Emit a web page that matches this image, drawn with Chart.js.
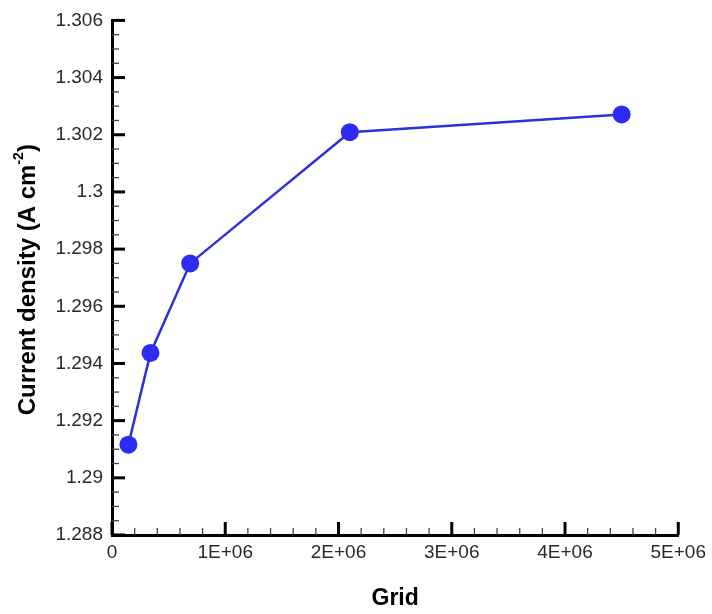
<!DOCTYPE html>
<html>
<head>
<meta charset="utf-8">
<title>Current density vs grid</title>
<script src="https://cdn.jsdelivr.net/npm/chart.js@4/dist/chart.umd.min.js"></script>
<style>
    html, body { margin: 0; padding: 0; background: #fff; }
    #wrap { width: 712px; height: 614px; }
</style>
</head>
<body>
<div id="wrap"><canvas id="gridChart"></canvas></div>
<script>
/* ── Grid independence data ─────────────────────────── */
const gridSizes = [145000, 340000, 690000, 2100000, 4500000];
const currentDensity = [1.29116, 1.29437, 1.29750, 1.30209, 1.30271];

const xRange = [0, 5000000];
const xStep = 1000000;
const xMinorStep = 200000;
const yRange = [1.288, 1.306];
const yStep = 0.002;
const yMinorStep = 0.0005;

const FONT = "'Liberation Sans', Arial, sans-serif";

/* ── Inward major/minor ticks along the left and bottom axes ── */
const inwardTicks = {
    id: 'inwardTicks',
    afterDatasetsDraw(chart) {
        const { ctx, chartArea: a, scales: { x, y } } = chart;
        ctx.save();
        ctx.lineCap = 'butt';

        const tick = (x1, y1, x2, y2, w, c) => {
            ctx.beginPath();
            ctx.lineWidth = w;
            ctx.strokeStyle = c;
            ctx.moveTo(x1, y1);
            ctx.lineTo(x2, y2);
            ctx.stroke();
        };

        const nx = Math.round((xRange[1] - xRange[0]) / xMinorStep);
        for (let i = 0; i <= nx; i++) {
            const v = xRange[0] + i * xMinorStep;
            const px = x.getPixelForValue(v);
            const major = i % Math.round(xStep / xMinorStep) === 0;
            if (major) tick(px, a.bottom, px, a.bottom - 13, 3, '#000');
            else tick(px, a.bottom, px, a.bottom - 7, 1.3, '#444');
        }

        const ny = Math.round((yRange[1] - yRange[0]) / yMinorStep);
        for (let i = 0; i <= ny; i++) {
            const v = yRange[0] + i * yMinorStep;
            const py = y.getPixelForValue(v);
            const major = i % Math.round(yStep / yMinorStep) === 0;
            if (major) tick(a.left, py, a.left + 13, py, 3, '#000');
            else tick(a.left, py, a.left + 7, py, 1.3, '#444');
        }
        ctx.restore();
    }
};

/* ── Rotated y title with superscript unit ──────────── */
const yTitle = {
    id: 'yTitle',
    afterDraw(chart) {
        const { ctx, chartArea: a } = chart;
        const main = 'Current density (A cm';
        const sup = '-2';
        const tail = ')';
        const bigFont = 'bold 24px ' + FONT;
        const smallFont = 'bold 14px ' + FONT;

        ctx.save();
        ctx.font = bigFont;
        const wMain = ctx.measureText(main).width;
        const wTail = ctx.measureText(tail).width;
        ctx.font = smallFont;
        const wSup = ctx.measureText(sup).width;
        const total = wMain + wSup + wTail;

        ctx.translate(28, (a.top + a.bottom) / 2 + 2);
        ctx.rotate(-Math.PI / 2);
        ctx.fillStyle = '#000';
        ctx.textBaseline = 'middle';
        ctx.textAlign = 'left';
        let cx = -total / 2;
        ctx.font = bigFont;
        ctx.fillText(main, cx, 0);
        cx += wMain;
        ctx.font = smallFont;
        ctx.fillText(sup, cx, -9);
        cx += wSup;
        ctx.font = bigFont;
        ctx.fillText(tail, cx, 0);
        ctx.restore();
    }
};

new Chart(document.getElementById('gridChart'), {
    type: 'scatter',
    data: {
        datasets: [{
            label: 'Current density',
            data: gridSizes.map((g, i) => ({ x: g, y: currentDensity[i] })),
            showLine: true,
            borderColor: '#3030d8',
            borderWidth: 2.5,
            backgroundColor: '#2b2bf2',
            pointBackgroundColor: '#2b2bf2',
            pointBorderWidth: 0,
            pointRadius: 9,
            pointHoverRadius: 9,
            tension: 0
        }]
    },
    plugins: [inwardTicks, yTitle],
    options: {
        responsive: true,
        maintainAspectRatio: false,
        animation: false,
        layout: { padding: { top: 19, right: 33, left: 0, bottom: 0 } },
        plugins: {
            legend: { display: false },
            tooltip: { enabled: false }
        },
        scales: {
            x: {
                type: 'linear',
                min: xRange[0],
                max: xRange[1],
                afterFit: s => { s.height = 79; },
                grid: { display: true, drawOnChartArea: false, drawTicks: false },
                border: { display: true, width: 3, color: '#000' },
                ticks: {
                    stepSize: xStep,
                    padding: 6,
                    maxRotation: 0,
                    color: '#2a2a2a',
                    font: { family: FONT, size: 19 },
                    callback: v => v === 0 ? '0' : (v / 1000000) + 'E+06'
                },
                title: {
                    display: true,
                    text: 'Grid',
                    color: '#000',
                    font: { family: FONT, size: 23, weight: 'bold' },
                    padding: { top: 0, bottom: 2 }
                }
            },
            y: {
                min: yRange[0],
                max: yRange[1],
                afterFit: s => { s.width = 112; },
                grid: { display: true, drawOnChartArea: false, drawTicks: false },
                border: { display: true, width: 3, color: '#000' },
                ticks: {
                    stepSize: yStep,
                    padding: 9,
                    color: '#2a2a2a',
                    font: { family: FONT, size: 19 },
                    callback: v => Number(v.toFixed(3)).toString()
                }
            }
        }
    }
});
</script>
</body>
</html>
